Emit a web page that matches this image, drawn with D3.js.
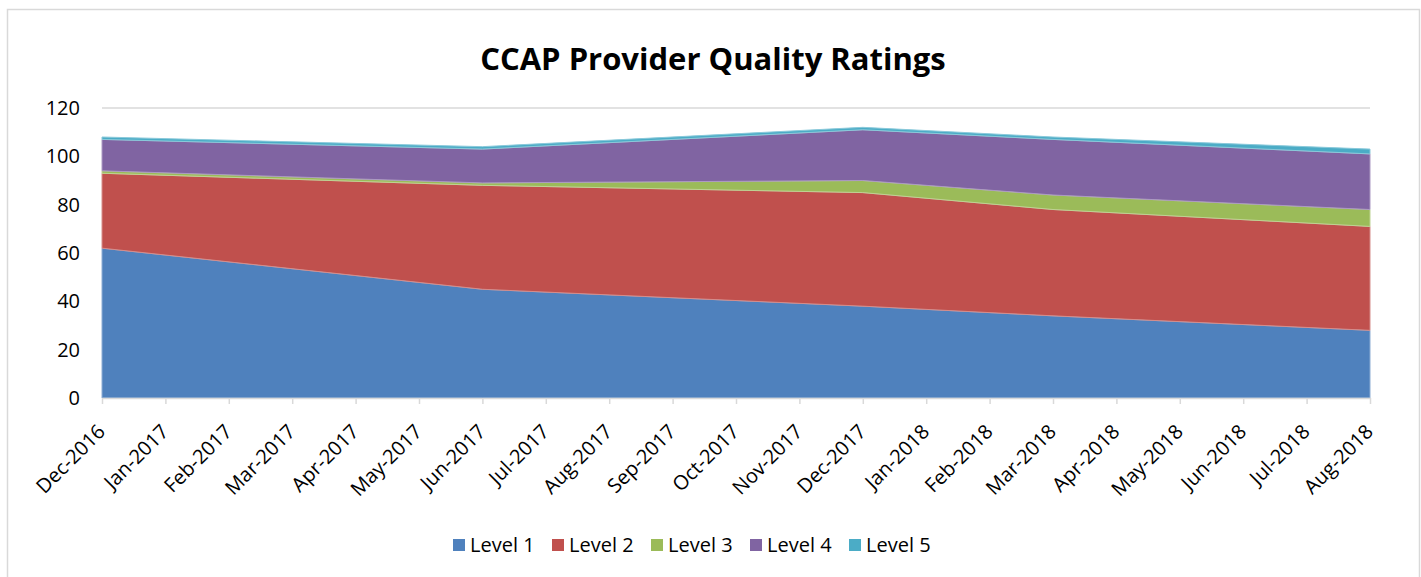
<!DOCTYPE html>
<html>
<head>
<meta charset="utf-8">
<script src="https://cdn.jsdelivr.net/npm/d3@7"></script>
<style>
  body { margin: 0; background: #fff; }
  text { font-family: "Open Sans", sans-serif; fill: #000; }
</style>
</head>
<body>
<svg id="chart" width="1421" height="577"></svg>
<script>
// month ticks on the category axis
const months = [
  "Dec-2016", "Jan-2017", "Feb-2017", "Mar-2017", "Apr-2017", "May-2017",
  "Jun-2017", "Jul-2017", "Aug-2017", "Sep-2017", "Oct-2017", "Nov-2017",
  "Dec-2017", "Jan-2018", "Feb-2018", "Mar-2018", "Apr-2018", "May-2018",
  "Jun-2018", "Jul-2018", "Aug-2018"
];

// months that have a report
const reportMonths = ["Dec-2016", "Jun-2017", "Dec-2017", "Mar-2018", "Aug-2018"];

const level1 = [62, 45, 38, 34, 28];
const level2 = [31, 43, 47, 44, 43];
const level3 = [1, 1, 5, 6, 7];
const level4 = [13, 14, 21, 23, 23];
const level5 = [1, 1, 1, 1, 2];

const levelNames = ["Level 1", "Level 2", "Level 3", "Level 4", "Level 5"];
const levelColors = ["#4f81bd", "#c0504d", "#9bbb59", "#8064a2", "#4bacc6"];
const yTicks = [0, 20, 40, 60, 80, 100, 120];

const svg = d3.select("#chart");
const width = 1421, height = 577;
const margin = { left: 102, right: 51, top: 108, bottom: 179 };

// outer chart border
svg.append("rect")
  .attr("x", 7.5).attr("y", 9.5)
  .attr("width", 1412).attr("height", 600)
  .attr("fill", "none")
  .attr("stroke", "#d9d9d9")
  .attr("stroke-width", 1.5);

svg.append("text")
  .attr("x", 713).attr("y", 70)
  .attr("text-anchor", "middle")
  .attr("font-size", 31)
  .attr("font-weight", "bold")
  .text("CCAP Provider Quality Ratings");

const x = d3.scalePoint()
  .domain(months)
  .range([margin.left, width - margin.right]);

const y = d3.scaleLinear()
  .domain([0, 120])
  .range([height - margin.bottom, margin.top]);

// gridlines
svg.append("g")
  .selectAll("line")
  .data(yTicks.filter(d => d > 0))
  .join("line")
  .attr("x1", margin.left).attr("x2", width - margin.right)
  .attr("y1", d => y(d)).attr("y2", d => y(d))
  .attr("stroke", "#d9d9d9")
  .attr("stroke-width", 1.5);

// build rows for the stack
const rows = reportMonths.map((m, i) => ({
  month: m,
  "Level 1": level1[i],
  "Level 2": level2[i],
  "Level 3": level3[i],
  "Level 4": level4[i],
  "Level 5": level5[i]
}));

const series = d3.stack().keys(levelNames)(rows);

const area = d3.area()
  .x(d => x(d.data.month))
  .y0(d => y(d[0]))
  .y1(d => y(d[1]));

svg.append("g")
  .selectAll("path")
  .data(series)
  .join("path")
  .attr("d", area)
  .attr("fill", (d, i) => levelColors[i])
  .attr("stroke", (d, i) => d3.interpolateRgb(levelColors[i], "#fff")(0.35))
  .attr("stroke-width", 1);

// y axis labels
svg.append("g")
  .selectAll("text")
  .data(yTicks)
  .join("text")
  .attr("x", 80)
  .attr("y", d => y(d))
  .attr("dy", "0.35em")
  .attr("text-anchor", "end")
  .attr("font-size", 20)
  .text(d => d);

// x axis
const xAxis = svg.append("g")
  .attr("transform", `translate(0,${y(0)})`)
  .call(d3.axisBottom(x).tickSize(6).tickSizeOuter(0));
xAxis.select(".domain").attr("stroke", "#d9d9d9").attr("stroke-width", 1.5);
xAxis.selectAll(".tick line").attr("stroke", "#d9d9d9").attr("stroke-width", 1.5);
xAxis.selectAll(".tick text")
  .attr("font-family", "Open Sans, sans-serif")
  .attr("font-size", 20)
  .attr("fill", "#000")
  .attr("text-anchor", "end")
  .attr("y", 0)
  .attr("dy", "0.35em")
  .attr("transform", "translate(-1,30) rotate(-45)");

// legend
const legend = svg.append("g");
const legendX = [453, 552, 651, 750, 849];
levelNames.forEach((name, i) => {
  legend.append("rect")
    .attr("x", legendX[i]).attr("y", 539)
    .attr("width", 12).attr("height", 12)
    .attr("fill", levelColors[i]);
  legend.append("text")
    .attr("x", legendX[i] + 17).attr("y", 545)
    .attr("dy", "0.35em")
    .attr("font-size", 20)
    .text(name);
});
</script>
</body>
</html>
